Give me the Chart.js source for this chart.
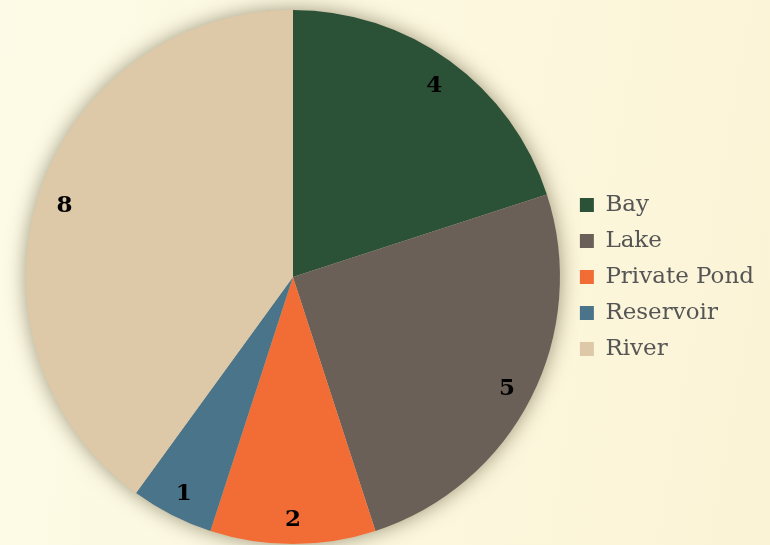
<!DOCTYPE html>
<html>
<head>
<meta charset="utf-8">
<script src="https://cdn.jsdelivr.net/npm/chart.js@4"></script>
<style>
  html, body { margin:0; padding:0; }
  body { width:770px; height:545px; background: linear-gradient(100deg, #fdfbe7 0%, #fcf7dd 60%, #fbf3d6 100%); }
  #wrap { width:770px; height:545px; }
</style>
</head>
<body>
<div id="wrap"><canvas id="myChart" width="770" height="545"></canvas></div>
<script>
let categorias = ['Bay', 'Lake', 'Private Pond', 'Reservoir', 'River'];
let valores = [4, 5, 2, 1, 8];
let colores = ['#2b5237', '#6a6058', '#f26d36', '#4a7489', '#ddc8a8'];

// sombra suave detras del pastel
let sombra = {
  id: 'sombra',
  beforeDatasetsDraw(chart) {
    let arco = chart.getDatasetMeta(0).data[0];
    if (!arco) return;
    let ctx = chart.ctx;
    ctx.save();
    ctx.shadowColor = 'rgba(60,50,20,0.5)';
    ctx.shadowBlur = 20;
    ctx.fillStyle = '#ddc8a8';
    ctx.beginPath();
    ctx.arc(arco.x, arco.y, arco.outerRadius, 0, Math.PI * 2);
    ctx.fill();
    ctx.restore();
  }
};

// numeros dentro de cada porcion
let etiquetas = {
  id: 'etiquetas',
  afterDatasetsDraw(chart) {
    let ctx = chart.ctx;
    let meta = chart.getDatasetMeta(0);
    ctx.save();
    ctx.font = 'bold 23px "DejaVu Serif", serif';
    ctx.fillStyle = '#000';
    ctx.textAlign = 'center';
    ctx.textBaseline = 'middle';
    meta.data.forEach(function(arco, i) {
      let ang = (arco.startAngle + arco.endAngle) / 2;
      let r = arco.outerRadius * 0.9;
      ctx.fillText(valores[i], arco.x + Math.cos(ang) * r, arco.y + Math.sin(ang) * r + 3);
    });
    ctx.restore();
  }
};

let ctx = document.getElementById('myChart').getContext('2d');
let chart = new Chart(ctx, {
  type: 'pie',
  data: {
    labels: categorias,
    datasets: [{
      data: valores,
      backgroundColor: colores,
      borderWidth: 0
    }]
  },
  options: {
    responsive: false,
    animation: false,
    layout: { padding: { left: 19, right: 6, top: 10, bottom: 1 } },
    plugins: {
      tooltip: { enabled: false },
      legend: {
        position: 'right',
        align: 'center',
        labels: {
          boxWidth: 14,
          boxHeight: 14,
          padding: 13,
          color: '#555555',
          font: { family: '"DejaVu Serif", serif', size: 23 }
        }
      }
    }
  },
  plugins: [sombra, etiquetas]
});
</script>
</body>
</html>
